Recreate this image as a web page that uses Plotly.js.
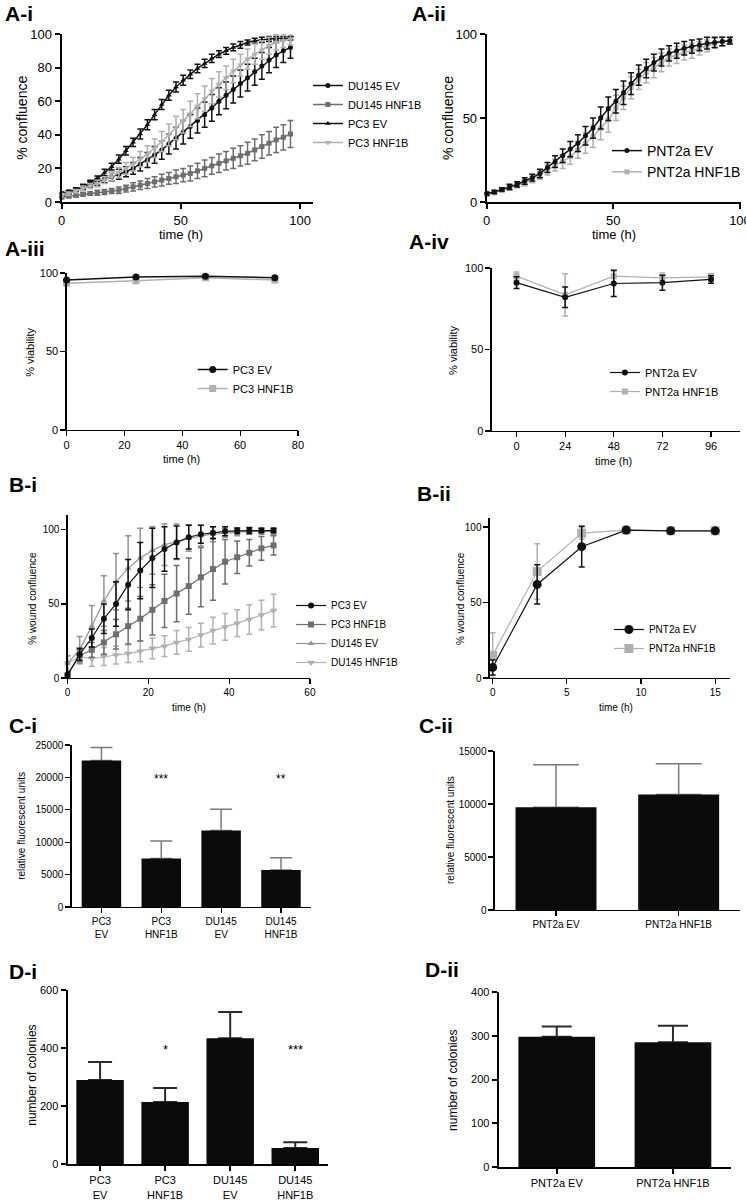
<!DOCTYPE html>
<html><head><meta charset="utf-8">
<script src="https://cdn.plot.ly/plotly-3.0.1.min.js"></script>
<style>html,body{margin:0;padding:0;background:#fff}#chart{width:746px;height:1202px}</style>
</head><body><div id="chart"></div>
<script>
// ---------- DATA ----------
const timeA = [0,3,6,9,12,15,18,21,24,27,30,33,36,39,42,45,48,51,54,57,60,63,66,69,72,75,78,81,84,87,90,93,96];
// A-i
const du145EV_A = [5,6,7.5,9,10.5,12,13.5,15,16.5,18,20,22.5,25,28,31,34.5,38,41.5,45,48.5,52,56,60,63.5,67,70.5,74,77.5,81,84.5,87.5,90,92];
const du145EV_Aerr = [1,1,1,1.5,1.5,2,2,2.5,3,3,3.5,4,4.5,5,5.5,6,6.5,7,7,7.5,7.5,8,8,8,8,8,8,8,8,7.5,7.5,7,6.5];
const du145HNF_A = [3,3.5,4,4.5,5,5.5,6,6.5,7,8,9,10,11,12,13,14,15,16,17,18.5,20,21.5,23,24.5,26,27.5,29,31,33,35,37,38.5,40.5];
const du145HNF_Aerr = [1,1,1,1,1,1.5,1.5,1.5,2,2,2.5,2.5,3,3,3.5,3.5,4,4,4.5,4.5,5,5,5.5,5.5,6,6,6.5,6.5,7,7,7.5,7.5,8];
const pc3EV_A = [4,5,7,9,11.5,14,17.5,21,25.5,30.5,35.5,40.5,46,52,58,63.5,68.5,72.5,76,79.5,82.5,85.5,88,90,92,93.5,95,96,96.5,97,97.5,97.5,97.5];
const pc3EV_Aerr = [1,1,1,1,1.5,1.5,2,2,2.5,2.5,2.5,3,3,3,3,3,3,3,2.5,2.5,2.5,2.5,2,2,2,2,1.5,1.5,1.5,1.5,1,1,1];
const pc3HNF_A = [4,5,6.5,8,9.5,11,13,15,17.5,20,22.5,25.5,28.5,32,36,40,44,48,52.5,57,61.5,66,70,74,78,81.5,85,88,90.5,93,95,96,97];
const pc3HNF_Aerr = [1,1,1,1.5,1.5,2,2,2.5,3,3.5,4,4.5,5,5.5,6,6.5,7,7,7.5,7.5,7.5,7.5,7.5,7,7,6.5,6,6,5.5,5,4.5,4,3.5];
// A-ii
const pntEV_A = [5,6,7.5,9,10.5,12.5,14.5,17,20.5,24,27.5,31.5,35,39.5,44,50,55.5,60,65,70.5,75.5,79.5,83,86,88.5,90,91.5,92.5,93.5,94.5,95,95.5,96];
const pntEV_Aerr = [1,1,1,1.5,1.5,2,2,2.5,3,3.5,4,4.5,5,5.5,6,6.5,7,7,7,6.5,6,5.5,5,5,4.5,4.5,4,4,3.5,3.5,3,2.5,2];
const pntHNF_A = [4.5,5.5,7,8.5,10,11.5,13.5,16,19,22,24,27,31,35,39,44,49,56,62,68,73,77,80,83,86,87.5,89,90,91.5,93,94.5,95.5,96];
const pntHNF_Aerr = [1,1,1,1.5,1.5,2,2,2.5,3,3.5,4,4.5,5,6,6.5,7,7.5,7.5,7,6.5,6,6,6,5.5,5,5,4.5,4.5,4,3.5,3,2.5,2];
// A-iii
const timeV3 = [0,24,48,72];
const pc3EV_V = [95.5,97.5,98,97];
const pc3EV_Verr = [1,0.8,0.8,0.8];
const pc3HNF_V = [93.5,95,97,95.5];
const pc3HNF_Verr = [1,0.8,0.8,0.8];
// A-iv
const timeV4 = [0,24,48,72,96];
const pntEV_V = [91,82,90.5,91,93];
const pntEV_Verr = [3.6,6.3,8,4.6,2.3];
const pntHNF_V = [95,83.5,95,94,94.5];
const pntHNF_Verr = [2.5,13,4,3,2];
// B-i
const timeB1 = [0,3,6,9,12,15,18,21,24,27,30,33,36,39,42,45,48,51];
const pc3EV_B = [2,16,27,40,50,63,72.5,81,87,91.5,95,97,98,99,99.3,99.5,99.5,99.5];
const pc3EV_Berr = [2,4,6,10,15,17,19,20,15,11,8,6,4,3,2,2,1.5,1.5];
const pc3HNF_B = [2,15,19,24,29.5,35,40,46,52,57,62,68,73.5,78.5,81.5,84.5,87.5,89.5];
const pc3HNF_Berr = [2,4,5,8,10,12,15,17,18,19,19,20,21,15,11,9,8,6.5];
const du145EV_B = [10,19,35,52,65,74,81,86,90,92,94.5,96,97,98,98.5,99,99,99];
const du145EV_Berr = [5,9,14,17,19,22,20,16,14,12,9,7,5,3,2.5,2,2,2];
const du145HNF_B = [10,14.5,13,14.5,15.5,16.5,18,20,21.5,24,26,29,32,34.5,37,39.5,42.5,45.5];
const du145HNF_Berr = [5,5,5,6,6,6,7,7,7,8,8,8,9,9,9,10,10,11];
// B-ii
const timeB2 = [0,3,6,9,12,15];
const pntEV_B = [7,62,87,98,97.5,97.5];
const pntEV_Berr = [5,13,13.5,1,1,1];
const pntHNF_B = [15,70.5,96,98,97.5,97.5];
const pntHNF_Berr = [15,18.5,4,1,1,1];
// C-i
const catsC1 = ['PC3<br>EV','PC3<br>HNF1B','DU145<br>EV','DU145<br>HNF1B'];
const rfuC1 = [22600,7500,11800,5700];
const rfuC1err = [2000,2700,3300,1900];
const starsC1 = ['','***','','**'];
// C-ii
const catsC2 = ['PNT2a EV','PNT2a HNF1B'];
const rfuC2 = [9700,10900];
const rfuC2err = [4000,2900];
// D-i
const colD1 = [290,214,434,55];
const colD1err = [62,48,90,20];
const starsD1 = ['','*','','***'];
// D-ii
const colD2 = [298,285];
const colD2err = [23,38];

// ---------- LAYOUT HELPERS ----------
const W=746,H=1202,F='"Liberation Sans", Arial, sans-serif';
const dx=(a,b)=>[a/W,b/W];
const dy=(t,b)=>[1-b/H,1-t/H];
const px=(v)=>v/W, py=(v)=>1-v/H;
function ax(domain,range,o){return Object.assign({domain:domain,range:range,showline:true,linecolor:'#000',linewidth:1.5,ticks:'outside',ticklen:5,tickwidth:1.5,tickcolor:'#000',showgrid:false,zeroline:false,fixedrange:true,tickfont:{family:F,size:12,color:'#000'}},o||{});}
function zeros(n){const a=[];for(let i=0;i<n;i++)a.push(0);return a;}

function line(x,y,e,name,color,symbol,size,xa,ya,leg,lw,ecol){
  return {type:'scatter',mode:'lines+markers',x:x,y:y,name:name,xaxis:xa,yaxis:ya,legend:leg,cliponaxis:false,
    line:{color:color,width:lw||1.5},marker:{color:color,symbol:symbol,size:size},
    error_y:{type:'data',array:e,visible:true,color:ecol||color,thickness:1.5,width:3}};
}
// bar with upper error bar: an empty bar carries the error bar, the black bar is drawn over its base
function bars(x,y,e,xa,ya,w,ecol,eth,ew){
  return [
    {type:'bar',x:x,y:y,xaxis:xa,yaxis:ya,width:w,showlegend:false,marker:{color:'rgba(0,0,0,0)'},
     error_y:{type:'data',symmetric:false,array:e,arrayminus:zeros(y.length),color:ecol,thickness:eth,width:ew}},
    {type:'bar',x:x,y:y,xaxis:xa,yaxis:ya,width:w,showlegend:false,marker:{color:'#0b0b0b',line:{width:0}}}
  ];
}
const BLK='#111',DG='#6e6e6e',MG='#939393',LG='#b0b0b0';
const traces=[
  // A-i
  line(timeA,du145EV_A,du145EV_Aerr,'DU145 EV',BLK,'circle',5,'x','y','legend'),
  line(timeA,du145HNF_A,du145HNF_Aerr,'DU145 HNF1B',DG,'square',5,'x','y','legend'),
  line(timeA,pc3EV_A,pc3EV_Aerr,'PC3 EV',BLK,'triangle-up',5,'x','y','legend'),
  line(timeA,pc3HNF_A,pc3HNF_Aerr,'PC3 HNF1B',LG,'triangle-down',6,'x','y','legend'),
  // A-ii
  line(timeA,pntHNF_A,pntHNF_Aerr,'PNT2a HNF1B',LG,'square',5,'x2','y2','legend2'),
  line(timeA,pntEV_A,pntEV_Aerr,'PNT2a EV',BLK,'circle',5,'x2','y2','legend2'),
  // A-iii
  line(timeV3,pc3HNF_V,pc3HNF_Verr,'PC3 HNF1B',LG,'square',7,'x3','y3','legend3',1.5),
  line(timeV3,pc3EV_V,pc3EV_Verr,'PC3 EV',BLK,'circle',7,'x3','y3','legend3',1.5,'#333'),
  // A-iv
  line(timeV4,pntHNF_V,pntHNF_Verr,'PNT2a HNF1B',LG,'square',6,'x4','y4','legend4',1.2),
  line(timeV4,pntEV_V,pntEV_Verr,'PNT2a EV',BLK,'circle',6,'x4','y4','legend4',1.2),
  // B-i
  line(timeB1,du145HNF_B,du145HNF_Berr,'DU145 HNF1B',LG,'triangle-down',7,'x5','y5','legend5',1.2),
  line(timeB1,du145EV_B,du145EV_Berr,'DU145 EV',MG,'triangle-up',6,'x5','y5','legend5',1.2),
  line(timeB1,pc3HNF_B,pc3HNF_Berr,'PC3 HNF1B',DG,'square',6,'x5','y5','legend5',1.2),
  line(timeB1,pc3EV_B,pc3EV_Berr,'PC3 EV',BLK,'circle',6,'x5','y5','legend5',1.2),
  // B-ii
  line(timeB2,pntHNF_B,pntHNF_Berr,'PNT2a HNF1B',LG,'square',9,'x6','y6','legend6',1.2),
  line(timeB2,pntEV_B,pntEV_Berr,'PNT2a EV',BLK,'circle',9,'x6','y6','legend6',1.2)
].concat(
  bars(catsC1,rfuC1,rfuC1err,'x7','y7',0.66,'#7a7a7a',1.5,11),
  bars(catsC2,rfuC2,rfuC2err,'x8','y8',0.66,'#7a7a7a',1.5,23),
  bars(catsC1,colD1,colD1err,'x9','y9',0.73,'#2a2a2a',2,12),
  bars(catsC2,colD2,colD2err,'x10','y10',0.66,'#2a2a2a',2,15)
);

function tf(s){return {family:F,size:s,color:'#000'};}
const layout={
  width:W,height:H,margin:{l:0,r:0,t:0,b:0},paper_bgcolor:'#fff',plot_bgcolor:'rgba(0,0,0,0)',
  showlegend:true,barmode:'overlay',
  // A-i
  xaxis:ax(dx(62,315),[0,105.4],{anchor:'y',tickvals:[0,50,100],linewidth:2,tickwidth:2,tickfont:tf(13)}),
  yaxis:ax(dy(34,202),[0,100],{anchor:'x',tickvals:[0,20,40,60,80,100],linewidth:2,tickwidth:2,tickfont:tf(13)}),
  // A-ii
  xaxis2:ax(dx(490,746),[0,100.4],{anchor:'y2',tickvals:[0,50,100],ticklabeloverflow:'allow',linewidth:2,tickwidth:2,tickfont:tf(13)}),
  yaxis2:ax(dy(34,202),[0,100],{anchor:'x2',tickvals:[0,50,100],linewidth:2,tickwidth:2,tickfont:tf(13)}),
  // A-iii
  xaxis3:ax(dx(67,300),[0,80],{anchor:'y3',tickvals:[0,20,40,60,80],linewidth:1.2,tickwidth:1.2,tickfont:tf(11)}),
  yaxis3:ax(dy(273,430),[0,100],{anchor:'x3',tickvals:[0,50,100],linewidth:1.2,tickwidth:1.2,tickfont:tf(11)}),
  // A-iv
  xaxis4:ax(dx(495,745),[-12.25,110.3],{anchor:'y4',tickvals:[0,24,48,72,96],linewidth:1.2,tickwidth:1.2,tickfont:tf(11)}),
  yaxis4:ax(dy(268,431),[0,100],{anchor:'x4',tickvals:[0,50,100],linewidth:1.2,tickwidth:1.2,tickfont:tf(11)}),
  // B-i
  xaxis5:ax(dx(68,312),[0,60],{anchor:'y5',tickvals:[0,20,40,60],linewidth:1.2,tickwidth:1.2,tickfont:tf(10)}),
  yaxis5:ax(dy(515,678),[0,110],{anchor:'x5',tickvals:[0,50,100],linewidth:1.2,tickwidth:1.2,tickfont:tf(10)}),
  // B-ii
  xaxis6:ax(dx(493,735),[-0.2,16],{anchor:'y6',tickvals:[0,5,10,15],linewidth:1.2,tickwidth:1.2,tickfont:tf(10)}),
  yaxis6:ax(dy(518,678),[0,106],{anchor:'x6',tickvals:[0,50,100],linewidth:1.2,tickwidth:1.2,tickfont:tf(10)}),
  // C-i
  xaxis7:ax(dx(72,313),[-0.5,3.5],{anchor:'y7',type:'category',linewidth:1.2,tickwidth:1.2,tickfont:tf(10)}),
  yaxis7:ax(dy(745,907),[0,25000],{anchor:'x7',tickvals:[0,5000,10000,15000,20000,25000],tickformat:'d',linewidth:1.2,tickwidth:1.2,tickfont:tf(10)}),
  // C-ii
  xaxis8:ax(dx(498,745),[-0.5,1.5],{anchor:'y8',type:'category',linewidth:1.2,tickwidth:1.2,tickfont:tf(10)}),
  yaxis8:ax(dy(751,910),[0,15000],{anchor:'x8',tickvals:[0,5000,10000,15000],tickformat:'d',linewidth:1.2,tickwidth:1.2,tickfont:tf(10)}),
  // D-i
  xaxis9:ax(dx(68,330),[-0.5,3.5],{anchor:'y9',type:'category',linewidth:2,tickwidth:2,tickfont:tf(11)}),
  yaxis9:ax(dy(990,1164),[0,600],{anchor:'x9',tickvals:[0,200,400,600],linewidth:2,tickwidth:2,tickfont:tf(11)}),
  // D-ii
  xaxis10:ax(dx(502,736),[-0.5,1.5],{anchor:'y10',type:'category',linewidth:2,tickwidth:2,tickfont:tf(11)}),
  yaxis10:ax(dy(992,1167),[0,400],{anchor:'x10',tickvals:[0,100,200,300,400],linewidth:2,tickwidth:2,tickfont:tf(11)}),
  legend:{x:px(310),y:py(71),xanchor:'left',yanchor:'top',font:tf(11),bgcolor:'rgba(0,0,0,0)',traceorder:'normal',itemwidth:30,tracegroupgap:0},
  legend2:{x:px(611),y:py(135),xanchor:'left',yanchor:'top',font:tf(14),bgcolor:'rgba(0,0,0,0)',traceorder:'reversed',itemwidth:30},
  legend3:{x:px(194),y:py(355),xanchor:'left',yanchor:'top',font:tf(11),bgcolor:'rgba(0,0,0,0)',traceorder:'reversed',itemwidth:30},
  legend4:{x:px(609),y:py(358),xanchor:'left',yanchor:'top',font:tf(11),bgcolor:'rgba(0,0,0,0)',traceorder:'reversed',itemwidth:30},
  legend5:{x:px(293),y:py(591),xanchor:'left',yanchor:'top',font:tf(10),bgcolor:'rgba(0,0,0,0)',traceorder:'reversed',itemwidth:30},
  legend6:{x:px(613),y:py(615),xanchor:'left',yanchor:'top',font:tf(10),bgcolor:'rgba(0,0,0,0)',traceorder:'reversed',itemwidth:30},
  annotations:[]
};
const ann=layout.annotations;
function txt(t,x,y,size,opt){ann.push(Object.assign({text:t,xref:'paper',yref:'paper',x:px(x),y:py(y),showarrow:false,font:tf(size),xanchor:'center',yanchor:'middle'},opt||{}));}
// panel titles
[['A-i',3,14],['A-ii',413,14],['A-iii',3,248],['A-iv',410,241],['B-i',7,485],['B-ii',418,493],['C-i',7,725],['C-ii',420,725],['D-i',7,972],['D-ii',426,970]]
  .forEach(p=>txt('<b>'+p[0]+'</b>',p[1],p[2],21,{xanchor:'left'}));
// axis titles
txt('% confluence',22,118,14,{textangle:-90});
txt('time (h)',182,234,13);
txt('% confluence',451,118,14,{textangle:-90});
txt('time (h)',618,234,13);
txt('% viability',30,352,11,{textangle:-90});
txt('time (h)',183,459,11);
txt('% viability',456,350,11,{textangle:-90});
txt('time (h)',618,461,11);
txt('% wound confluence',32,598,10,{textangle:-90});
txt('time (h)',190,707,10);
txt('% wound confluence',463,598,10,{textangle:-90});
txt('time (h)',620,707,10);
txt('relative fluorescent units',22,826,10,{textangle:-90});
txt('relative fluorescent units',453,830,10,{textangle:-90});
txt('number of colonies',32,1075,12,{textangle:-90});
txt('number of colonies',456,1080,12,{textangle:-90});
// significance stars
catsC1.forEach((c,i)=>{ if(starsC1[i]) ann.push({text:starsC1[i],xref:'x7',yref:'y7',x:c,y:19800,showarrow:false,font:tf(12)}); });
catsC1.forEach((c,i)=>{ if(starsD1[i]) ann.push({text:starsD1[i],xref:'x9',yref:'y9',x:c,y:395,showarrow:false,font:tf(13)}); });

Plotly.newPlot('chart',traces,layout,{staticPlot:true,displayModeBar:false});
</script>
</body></html>
